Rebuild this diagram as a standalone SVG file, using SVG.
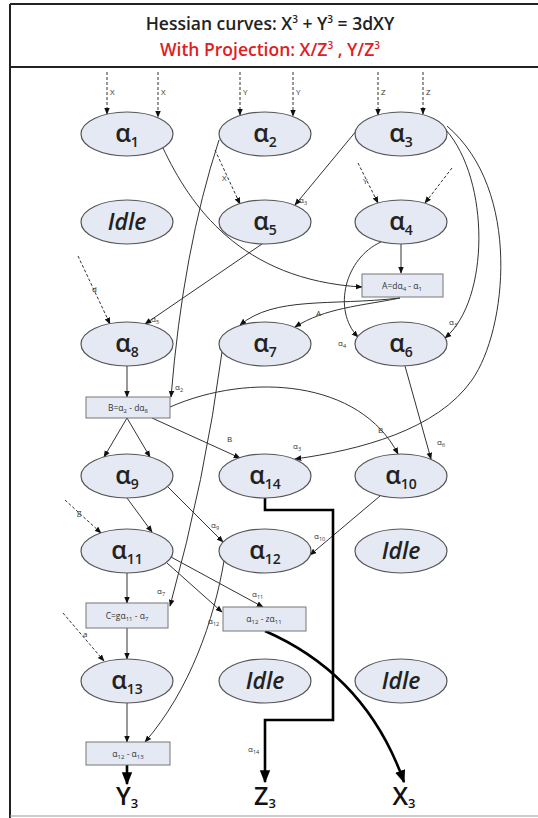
<svg xmlns="http://www.w3.org/2000/svg" width="538" height="818" viewBox="0 0 538 818">
<defs>
<marker id="ah" viewBox="0 0 10 10" refX="9" refY="5" markerWidth="7" markerHeight="7" markerUnits="userSpaceOnUse" orient="auto"><path d="M0,1 L10,5 L0,9 z" fill="#111"/></marker>
<marker id="ahb" viewBox="0 0 10 10" refX="9" refY="5" markerWidth="13" markerHeight="13" markerUnits="userSpaceOnUse" orient="auto"><path d="M0,1 L10,5 L0,9 z" fill="#000"/></marker>
<style>
.nd ellipse{fill:#e4e9f3;stroke:#555;stroke-width:1.2}
.nd text{font-family:"Open Sans","Liberation Sans",Arial,sans-serif;fill:#222;text-anchor:middle}
.al{font-size:25px;font-weight:600}
.al .s{font-size:14px}
.idle{font-size:23px;font-style:italic;font-weight:600}
.bx rect{fill:#e4e9f3;stroke:#777;stroke-width:1}
.bx text{font-family:"Open Sans","Liberation Sans",Arial,sans-serif;font-size:8.5px;fill:#333;text-anchor:middle}
.bx .s{font-size:6px}
.e{fill:none;stroke:#333;stroke-width:1;marker-end:url(#ah)}
.d{fill:none;stroke:#333;stroke-width:1;stroke-dasharray:3 2;marker-end:url(#ah)}
.t{fill:none;stroke:#000;stroke-width:2.6;marker-end:url(#ahb)}
.lb{font-family:"Open Sans","Liberation Sans",Arial,sans-serif;font-size:8px;fill:#333}
.lb .s{font-size:5.5px}
.out{font-family:"Open Sans","Liberation Sans",Arial,sans-serif;font-size:25px;font-weight:600;fill:#111;text-anchor:middle}
.out .s{font-size:13px}
</style>
</defs>
<rect x="0" y="0" width="538" height="818" fill="#fff"/>
<g id="frame" stroke="#222" fill="none">
<line x1="10" y1="4" x2="538" y2="4" stroke-width="2"/>
<line x1="10" y1="4" x2="10" y2="818" stroke-width="2"/>
<line x1="10" y1="67" x2="538" y2="67" stroke-width="2"/>
<line x1="10" y1="816" x2="538" y2="816" stroke-width="1" stroke="#999"/>
</g>
<g id="header" font-family="'Open Sans','Liberation Sans',Arial,sans-serif" text-anchor="middle" font-weight="600">
<text x="270" y="30" font-size="17.5" fill="#222">Hessian curves: X<tspan font-size="10" dy="-7">3</tspan><tspan dy="7"> + Y</tspan><tspan font-size="10" dy="-7">3</tspan><tspan dy="7"> = 3dXY</tspan></text>
<text x="270" y="56" font-size="17.5" fill="#e02020">With Projection: X/Z<tspan font-size="10" dy="-7">3</tspan><tspan dy="7"> , Y/Z</tspan><tspan font-size="10" dy="-7">3</tspan></text>
</g>
<g id="connectors">
<path class="d" d="M107,72 V114"/><path class="d" d="M158,72 V117"/>
<path class="d" d="M240,72 V115"/><path class="d" d="M293,72 V116"/>
<path class="d" d="M378,72 V115"/><path class="d" d="M423,72 V114"/>
<path class="e" d="M163,148 C190,205 240,280 362,287"/>
<path class="e" d="M401,244 V273"/>
<path class="e" d="M219,140 Q183,250 171,397"/>
<path class="e" d="M357,130 L295,205"/>
<path class="d" d="M215,150 L240,204"/>
<path class="d" d="M358,163 L378,203"/>
<path class="d" d="M452,168 L425,203"/>
<path class="e" d="M446,130 C490,180 490,300 445,338"/>
<path class="e" d="M447,126 C522,190 507,330 472,380 C437,430 360,450 295,459"/>
<path class="e" d="M381,242 C345,258 332,310 358,337"/>
<path class="e" d="M400,298 C360,306 325,308 295,327"/>
<path class="e" d="M400,298 C330,306 275,296 240,325"/>
<path class="e" d="M262,244 L145,324"/>
<path class="d" d="M78,256 L110,324"/>
<path class="e" d="M127,366 V397"/>
<path class="e" d="M170,407 C250,372 360,380 398,454"/>
<path class="e" d="M127,418 L104,457"/>
<path class="e" d="M127,418 L150,457"/>
<path class="e" d="M152,418 L240,458"/>
<path class="e" d="M405,366 L431,459"/>
<path class="e" d="M222,352 Q205,480 170,606"/>
<path class="e" d="M127,498 L152,532"/>
<path class="e" d="M168,487 L223,542"/>
<path class="d" d="M65,500 L101,533"/>
<path class="e" d="M380,496 L310,555"/>
<path class="e" d="M127,573 V603"/>
<path class="e" d="M171,557 L263,607"/>
<path class="e" d="M167,563 L222,612"/>
<path class="e" d="M224,561 C214,620 190,690 145,742"/>
<path class="e" d="M127,628 V659"/>
<path class="d" d="M63,613 L104,661"/>
<path class="e" d="M127,703 V742"/>
<path class="t" d="M127,765 V784"/>
<path class="t" d="M265,498 V510 H333 V720 H265 V782"/>
<path class="t" d="M265,631 C320,655 375,700 404,782"/>
</g>
<g id="edge-labels" class="lb">
<text x="110" y="95">X</text><text x="161" y="95">X</text>
<text x="243" y="95">Y</text><text x="296" y="95">Y</text>
<text x="381" y="95">Z</text><text x="426" y="95">Z</text>
<text x="299" y="203">α<tspan class="s" dy="2">3</tspan></text>
<text x="222" y="181">X</text>
<text x="363" y="184">Y</text>
<text x="449" y="325">α<tspan class="s" dy="2">3</tspan></text>
<text x="293" y="449">α<tspan class="s" dy="2">3</tspan></text>
<text x="338" y="346">α<tspan class="s" dy="2">4</tspan></text>
<text x="316" y="316">A</text>
<text x="151" y="322">α<tspan class="s" dy="2">5</tspan></text>
<text x="92" y="292">d</text>
<text x="175" y="390">α<tspan class="s" dy="2">2</tspan></text>
<text x="378" y="433">B</text>
<text x="227" y="442">B</text>
<text x="437" y="445">α<tspan class="s" dy="2">6</tspan></text>
<text x="157" y="594">α<tspan class="s" dy="2">7</tspan></text>
<text x="211" y="528">α<tspan class="s" dy="2">9</tspan></text>
<text x="77" y="515">g</text>
<text x="314" y="539">α<tspan class="s" dy="2">10</tspan></text>
<text x="252" y="597">α<tspan class="s" dy="2">11</tspan></text>
<text x="208" y="624">α<tspan class="s" dy="2">12</tspan></text>
<text x="83" y="637">a</text>
<text x="248" y="752">α<tspan class="s" dy="2">14</tspan></text>
</g>
<g id="n-a1" class="nd"><ellipse cx="127" cy="134" rx="46" ry="22"/><text class="al" x="127" y="142">α<tspan class="s" dy="5">1</tspan></text></g>
<g id="n-a2" class="nd"><ellipse cx="265" cy="134" rx="46" ry="22"/><text class="al" x="265" y="142">α<tspan class="s" dy="5">2</tspan></text></g>
<g id="n-a3" class="nd"><ellipse cx="401" cy="134" rx="46" ry="22"/><text class="al" x="401" y="142">α<tspan class="s" dy="5">3</tspan></text></g>
<g id="n-idle1" class="nd"><ellipse cx="127" cy="222" rx="46" ry="22"/><text class="idle" x="127" y="230">Idle</text></g>
<g id="n-a5" class="nd"><ellipse cx="265" cy="222" rx="46" ry="22"/><text class="al" x="265" y="230">α<tspan class="s" dy="5">5</tspan></text></g>
<g id="n-a4" class="nd"><ellipse cx="401" cy="222" rx="46" ry="22"/><text class="al" x="401" y="230">α<tspan class="s" dy="5">4</tspan></text></g>
<g id="n-A" class="bx"><rect x="362" y="274" width="81" height="23"/><text x="402" y="289">A=dα<tspan class="s" dy="2">4</tspan><tspan dy="-2"> - α</tspan><tspan class="s" dy="2">1</tspan></text></g>
<g id="n-a8" class="nd"><ellipse cx="127" cy="344" rx="46" ry="22"/><text class="al" x="127" y="352">α<tspan class="s" dy="5">8</tspan></text></g>
<g id="n-a7" class="nd"><ellipse cx="265" cy="344" rx="46" ry="22"/><text class="al" x="265" y="352">α<tspan class="s" dy="5">7</tspan></text></g>
<g id="n-a6" class="nd"><ellipse cx="401" cy="344" rx="46" ry="22"/><text class="al" x="401" y="352">α<tspan class="s" dy="5">6</tspan></text></g>
<g id="n-B" class="bx"><rect x="86" y="397" width="84" height="21"/><text x="128" y="411">B=α<tspan class="s" dy="2">2</tspan><tspan dy="-2"> - dα</tspan><tspan class="s" dy="2">8</tspan></text></g>
<g id="n-a9" class="nd"><ellipse cx="127" cy="476" rx="46" ry="22"/><text class="al" x="127" y="484">α<tspan class="s" dy="5">9</tspan></text></g>
<g id="n-a14" class="nd"><ellipse cx="265" cy="476" rx="46" ry="22"/><text class="al" x="265" y="484">α<tspan class="s" dy="5">14</tspan></text></g>
<g id="n-a10" class="nd"><ellipse cx="401" cy="476" rx="46" ry="22"/><text class="al" x="401" y="484">α<tspan class="s" dy="5">10</tspan></text></g>
<g id="n-a11" class="nd"><ellipse cx="127" cy="551" rx="46" ry="22"/><text class="al" x="127" y="559">α<tspan class="s" dy="5">11</tspan></text></g>
<g id="n-a12" class="nd"><ellipse cx="265" cy="551" rx="46" ry="22"/><text class="al" x="265" y="559">α<tspan class="s" dy="5">12</tspan></text></g>
<g id="n-idle2" class="nd"><ellipse cx="401" cy="551" rx="46" ry="22"/><text class="idle" x="401" y="559">Idle</text></g>
<g id="n-C" class="bx"><rect x="86" y="603" width="82" height="25"/><text x="127" y="619">C=gα<tspan class="s" dy="2">11</tspan><tspan dy="-2"> - α</tspan><tspan class="s" dy="2">7</tspan></text></g>
<g id="n-X" class="bx"><rect x="223" y="607" width="83" height="24"/><text x="264" y="622">α<tspan class="s" dy="2">12</tspan><tspan dy="-2"> - zα</tspan><tspan class="s" dy="2">11</tspan></text></g>
<g id="n-a13" class="nd"><ellipse cx="127" cy="681" rx="46" ry="22"/><text class="al" x="127" y="689">α<tspan class="s" dy="5">13</tspan></text></g>
<g id="n-idle3" class="nd"><ellipse cx="265" cy="681" rx="46" ry="22"/><text class="idle" x="265" y="689">Idle</text></g>
<g id="n-idle4" class="nd"><ellipse cx="401" cy="681" rx="46" ry="22"/><text class="idle" x="401" y="689">Idle</text></g>
<g id="n-Y" class="bx"><rect x="86" y="742" width="84" height="23"/><text x="128" y="757">α<tspan class="s" dy="2">12</tspan><tspan dy="-2"> - α</tspan><tspan class="s" dy="2">13</tspan></text></g>
<g id="outputs">
<text class="out" x="127" y="805">Y<tspan class="s" dy="3">3</tspan></text>
<text class="out" x="265" y="805">Z<tspan class="s" dy="3">3</tspan></text>
<text class="out" x="404" y="805">X<tspan class="s" dy="3">3</tspan></text>
</g>
</svg>
